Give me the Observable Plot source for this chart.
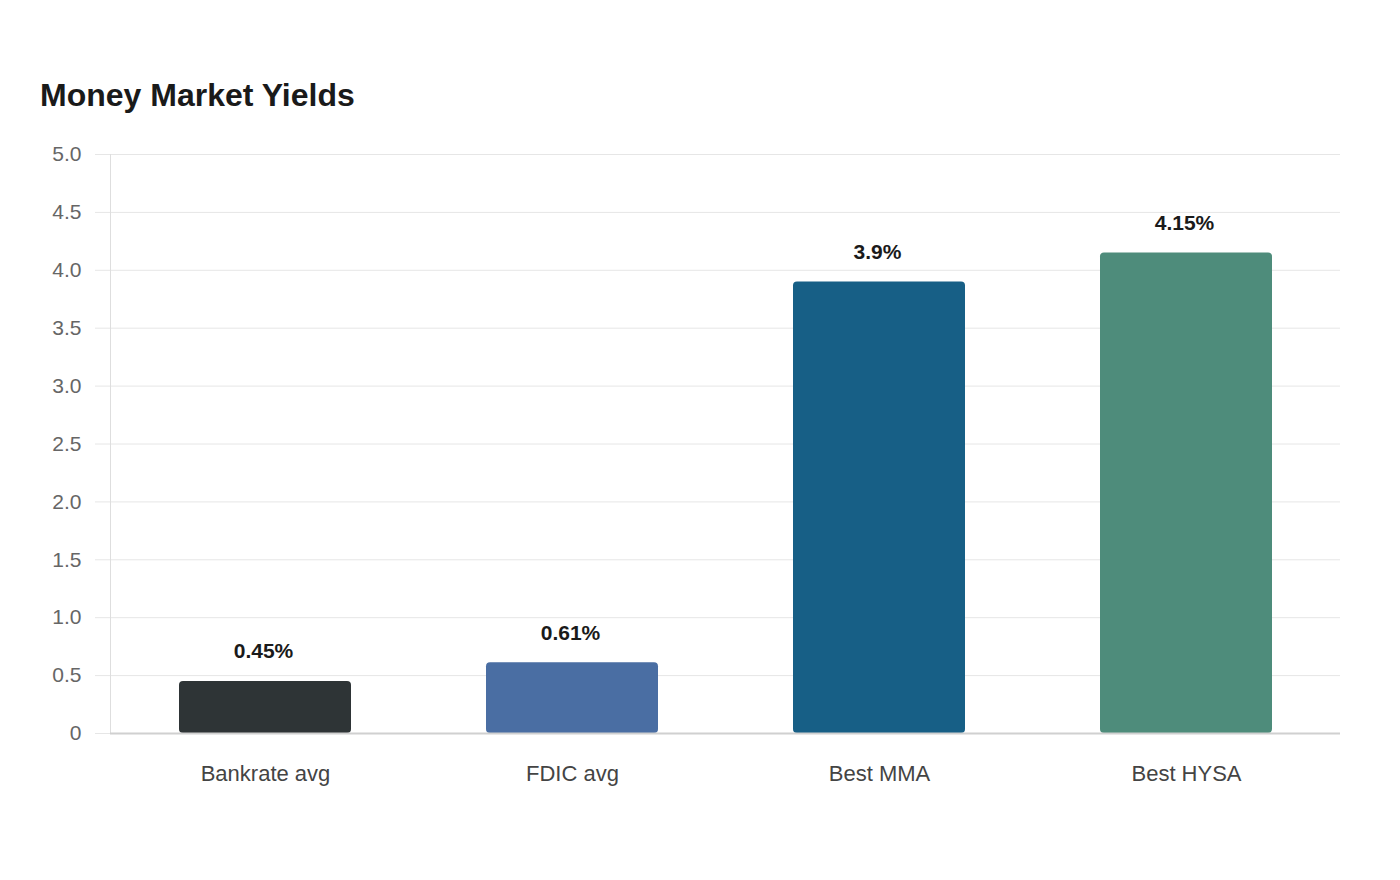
<!DOCTYPE html>
<html>
<head>
<meta charset="utf-8">
<script src="https://cdn.jsdelivr.net/npm/d3@7"></script>
<script src="https://cdn.jsdelivr.net/npm/@observablehq/plot@0.6"></script>
<style>
  html, body { margin: 0; padding: 0; background: #fff; }
  body { width: 1400px; height: 880px; position: relative; font-family: "Liberation Sans", Arial, sans-serif; }
  #title { position: absolute; left: 40px; top: 79px; font-size: 32px; line-height: 32px; font-weight: bold; color: #1a1a1a; }
  #chart { position: absolute; left: 0; top: 120px; }
</style>
</head>
<body>
<div id="title">Money Market Yields</div>
<div id="chart"></div>
<script>
const categories = ["Bankrate avg", "FDIC avg", "Best MMA", "Best HYSA"];
const yields = [0.45, 0.61, 3.9, 4.15];
const colors = ["#2e3436", "#4a6ea3", "#175f86", "#4e8c7b"];
const labels = ["0.45%", "0.61%", "3.9%", "4.15%"];
const yTicks = [0, 0.5, 1, 1.5, 2, 2.5, 3, 3.5, 4, 4.5, 5];

const data = categories.map((c, i) => ({ category: c, value: yields[i], color: colors[i], label: labels[i] }));

const chart = Plot.plot({
  width: 1400,
  height: 720,
  marginTop: 34,
  marginBottom: 107,
  marginLeft: 110,
  marginRight: 60,
  style: { fontFamily: "'Liberation Sans', Arial, sans-serif", background: "#fff" },
  x: { domain: categories, paddingInner: 0.44, paddingOuter: 0.22, label: null },
  y: { domain: [0, 5], label: null },
  marks: [
    Plot.gridY(yTicks, { stroke: "#e6e6e6", strokeOpacity: 1 }),
    Plot.axisY(yTicks, { tickSize: 15, tickPadding: 14, stroke: "#e6e6e6", strokeOpacity: 1, fill: "#666", fontSize: 21, label: null, tickFormat: d => d === 0 ? "0" : d.toFixed(1) }),
    Plot.frame({ anchor: "left", stroke: "#dedede", strokeOpacity: 1 }),
    Plot.barY(data, { x: "category", y: "value", fill: "color", rx: 4 }),
    Plot.ruleY([0], { stroke: "#d0d0d0", strokeWidth: 2 }),
    Plot.axisX({ tickSize: 0, tickPadding: 32, fontSize: 22, fill: "#444", label: null }),
    Plot.text(data, { x: "category", y: "value", text: "label", dy: -30, dx: -2, fontSize: 21, fontWeight: "bold", fill: "#1a1a1a", lineAnchor: "middle" })
  ]
});
document.getElementById("chart").appendChild(chart);
</script>
</body>
</html>
